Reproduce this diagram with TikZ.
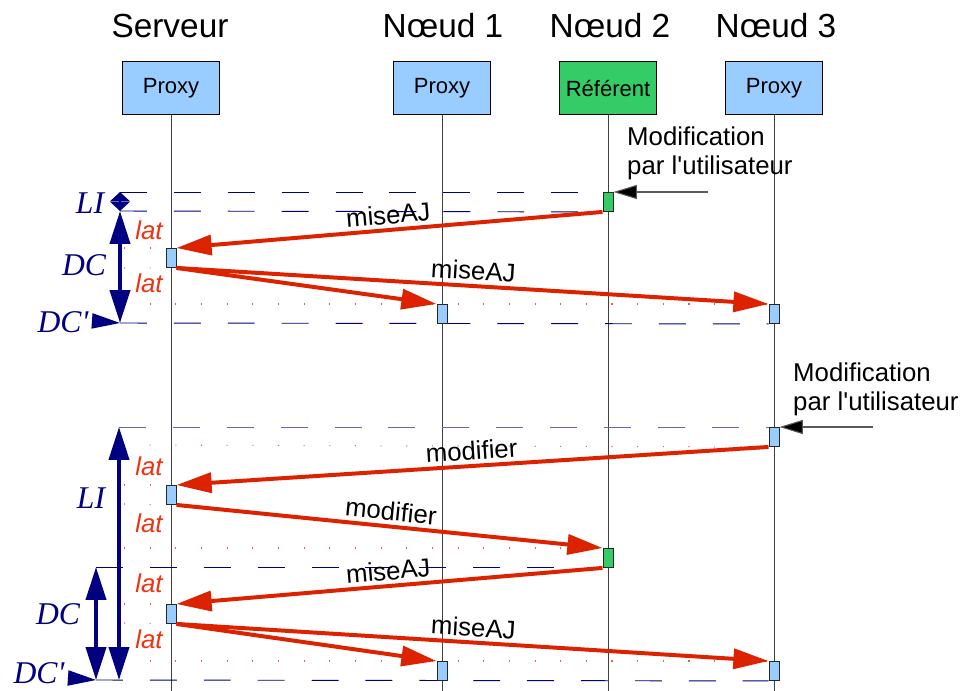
\documentclass[tikz,border=0pt]{standalone}
\usepackage{fontspec}
\setmainfont{Liberation Sans}
\newfontfamily\timesfont{Liberation Serif}
\usepackage{xcolor}
\usetikzlibrary{arrows.meta,backgrounds}
\definecolor{proxyblue}{HTML}{99CCFF}
\definecolor{refgreen}{HTML}{33CC66}
\definecolor{msgred}{HTML}{DD2200}
\definecolor{latred}{HTML}{EE3311}
\definecolor{dimnavy}{HTML}{000080}

\begin{document}
\begin{tikzpicture}[x=0.03cm,y=-0.03cm,
  point/.style={coordinate},
  title/.style={anchor=base, font=\fontsize{28.5}{30}\selectfont},
  head/.style={draw=black, line width=0.8pt, rectangle, minimum width=2.91cm, minimum height=1.59cm, font=\fontsize{18.8}{20}\selectfont},
  act/.style={draw=black!85, line width=0.8pt, rectangle, inner sep=0pt, minimum width=0.3cm, minimum height=0.57cm, anchor=north, fill=proxyblue},
  life/.style={draw=black!75, line width=0.7pt},
  msg/.style={draw=msgred, line width=3.4pt, -{Triangle[length=30pt,width=17pt]}},
  user/.style={draw=black!65, line width=0.9pt, -{Triangle[length=20pt,width=12pt,fill=black]}},
  tier/.style={draw=dimnavy, line width=0.8pt, dash pattern=on 23pt off 23pt},
  latdots/.style={draw=latred!80, line width=0.9pt, dash pattern=on 0.9pt off 21pt},
  span/.style={draw=dimnavy, line width=3.4pt, {Triangle[length=28pt,width=17pt]}-{Triangle[length=28pt,width=17pt]}},
  spantiny/.style={draw=dimnavy, line width=1pt, {Triangle[length=8pt,width=17pt]}-{Triangle[length=8pt,width=17pt]}},
  dcmark/.style={draw=dimnavy, line width=1pt, -{Triangle[length=24pt,width=13pt]}},
  lbl/.style={font=\fontsize{22}{24.8}\selectfont, text=black},
  lat/.style={anchor=base, font=\fontsize{22}{25}\selectfont\itshape, text=latred},
  dur/.style={anchor=base, inner sep=1pt, font=\timesfont\fontsize{27}{30}\selectfont\itshape, text=dimnavy}]
\useasboundingbox (0,0) rectangle (966,691);

% lifelines
\node[title] (tS) at (170,37) {Serveur};
\node[title] (t1) at (443,37) {Nœud 1};
\node[title] (t2) at (610,37) {Nœud 2};
\node[title] (t3) at (776,37) {Nœud 3};
\node[head, fill=proxyblue] (hS) at (171,88) {Proxy};
\node[head, fill=proxyblue] (h1) at (442,88) {Proxy};
\node[head, fill=refgreen] (h2) at (608,88) {Référent};
\node[head, fill=proxyblue] (h3) at (774,88) {Proxy};
\node[point] (eS) at (171,691) {};
\node[point] (e1) at (442,691) {};
\node[point] (e2) at (608,691) {};
\node[point] (e3) at (774,691) {};
\begin{scope}[on background layer]
\draw[life] (hS) -- (eS);
\draw[life] (h1) -- (e1);
\draw[life] (h2) -- (e2);
\draw[life] (h3) -- (e3);
\end{scope}

% first case: modification on the referent
\node[act, fill=refgreen] (r1) at (608,192) {};
\node[act] (s1) at (171,248) {};
\node[act] (n1a) at (442,304) {};
\node[act] (n3a) at (774,304) {};
\node[point] (liA) at (120,192) {};
\node[point] (liB) at (120,211) {};
\node[point] (dcB) at (120,323) {};
\node[point] (dcpA) at (93,321) {};
\node[point] (d1) at (124,248) {};
\node[point] (d2) at (124,268) {};
\node[point] (d3) at (124,304) {};
\node[point] (u1) at (708,192) {};
\begin{scope}[on background layer]
\draw[tier] (liA) -- (r1.north west);
\draw[tier] (liB) -- (r1.south west);
\draw[tier] (dcB) -- (n3a.south west);
\draw[latdots] (d1) -- (s1.north west);
\draw[latdots] (d2) -- (s1.south west);
\draw[latdots] (d3) -- (n3a.north west);
\end{scope}
\draw[spantiny] (liA) -- (liB);
\draw[span] (liB) -- (dcB);
\draw[dcmark] (dcpA) -- (dcB);
\node[dur] at (90,213) {LI};
\node[dur] at (84,275) {DC};
\node[dur] at (63,332) {DC\textquotesingle};
\node[lat] at (149,239) {lat};
\node[lat] at (149,292) {lat};
\draw[user] (u1) -- (r1.north east);
\node[lbl, anchor=north west, align=left, inner sep=0pt] (m1) at (627,127) {Modification\\par l\textquotesingle utilisateur};
\draw[msg] (r1.south west) -- node[lbl, midway, above, sloped] {miseAJ} (s1.north east);
\draw[msg] (s1.south east) -- (n1a.north west);
\draw[msg] (s1.south east) -- node[lbl, midway, above, sloped] {miseAJ} (n3a.north west);

% second case: modification on a simple node
\node[act] (n3b) at (774,427) {};
\node[act] (s2) at (171,485) {};
\node[act, fill=refgreen] (r2) at (608,548) {};
\node[act] (s3) at (171,604) {};
\node[act] (n1b) at (442,661) {};
\node[act] (n3c) at (774,661) {};
\node[point] (liC) at (119,427) {};
\node[point] (liD) at (119,680) {};
\node[point] (dcC) at (96,567) {};
\node[point] (dcE) at (560,567) {};
\node[point] (dcD) at (96,680) {};
\node[point] (dcpB) at (68,678) {};
\node[point] (d4) at (124,445) {};
\node[point] (d5) at (124,485) {};
\node[point] (d6) at (124,504) {};
\node[point] (d7) at (124,548) {};
\node[point] (d8) at (124,604) {};
\node[point] (d9) at (124,623) {};
\node[point] (d10) at (124,661) {};
\node[point] (u2) at (873,427) {};
\begin{scope}[on background layer]
\draw[tier, draw=dimnavy!60] (liC) -- (n3b.north west);
\draw[tier] (dcC) -- (dcE);
\draw[tier] (dcD) -- (n3c.south west);
\draw[latdots] (d4) -- (n3b.south west);
\draw[latdots] (d5) -- (s2.north west);
\draw[latdots] (d6) -- (s2.south west);
\draw[latdots] (d7) -- (r2.north west);
\draw[latdots] (d8) -- (s3.north west);
\draw[latdots] (d9) -- (s3.south west);
\draw[latdots] (d10) -- (n3c.north west);
\end{scope}
\draw[span] (liC) -- (liD);
\draw[span] (dcC) -- (dcD);
\draw[dcmark] (dcpB) -- (dcD);
\node[dur] at (91,508) {LI};
\node[dur] at (58,624) {DC};
\node[dur] at (39,683) {DC\textquotesingle};
\node[lat] at (149,475) {lat};
\node[lat] at (149,532) {lat};
\node[lat] at (149,592) {lat};
\node[lat] at (149,648) {lat};
\draw[user] (u2) -- (n3b.north east);
\node[lbl, anchor=north west, align=left, inner sep=0pt] (m2) at (793,363) {Modification\\par l\textquotesingle utilisateur};
\draw[msg] (n3b.south west) -- node[lbl, midway, above, sloped] {modifier} (s2.north east);
\draw[msg] (s2.south east) -- node[lbl, midway, above, sloped] {modifier} (r2.north west);
\draw[msg] (r2.south west) -- node[lbl, midway, above, sloped] {miseAJ} (s3.north east);
\draw[msg] (s3.south east) -- (n1b.north west);
\draw[msg] (s3.south east) -- node[lbl, midway, above, sloped] {miseAJ} (n3c.north west);
\end{tikzpicture}
\end{document}
